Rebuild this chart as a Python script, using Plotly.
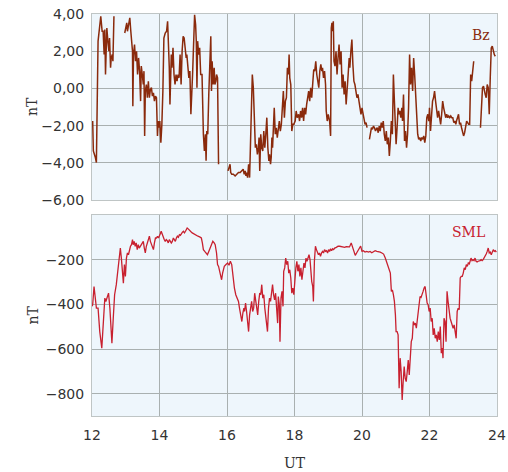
import plotly.graph_objects as go

# ---------------- data ----------------
bz_time = [12.02, 12.04, 12.10, 12.13, 12.18, 12.23, 12.26, 12.30, 12.33, 12.36, 12.38, 12.40, 12.44, 12.47, 12.50,
           12.52, 12.55, 12.57, 12.60, 12.62, 12.65, 12.80,
           12.97, 13.00, 13.03, 13.05, 13.09, 13.12, 13.15, 13.17, 13.20, 13.21, 13.23, 13.26, 13.29, 13.32, 13.35,
           13.38, 13.41, 13.44, 13.46, 13.49, 13.52, 13.54, 13.56, 13.58, 13.61, 13.64, 13.67, 13.70, 13.73, 13.76,
           13.79, 13.82, 13.85, 13.88, 13.91, 13.94, 13.96, 13.99, 14.01, 14.04, 14.07, 14.10, 14.13, 14.17, 14.21,
           14.24, 14.27, 14.29, 14.31, 14.33, 14.35, 14.37, 14.40, 14.43, 14.46, 14.49, 14.52, 14.55, 14.58, 14.61,
           14.64, 14.67, 14.70, 14.73, 14.76, 14.79, 14.81, 14.84, 14.87, 14.90, 14.93,
           14.98, 15.01, 15.04, 15.07, 15.09, 15.11, 15.13, 15.16, 15.19, 15.22, 15.26, 15.30, 15.33, 15.36, 15.38,
           15.40, 15.43, 15.46, 15.49, 15.52, 15.54, 15.56, 15.59, 15.62, 15.64, 15.67, 15.69, 15.72, 15.75, 15.90,
           16.03, 16.06, 16.09, 16.11, 16.14, 16.19, 16.24, 16.29, 16.34, 16.39, 16.43, 16.48, 16.51, 16.54, 16.56,
           16.58, 16.61, 16.64, 16.67, 16.69, 16.72, 16.75, 16.78, 16.81, 16.84, 16.87, 16.90, 16.93, 16.95, 16.97,
           17.00, 17.03, 17.06, 17.09, 17.12, 17.15, 17.18, 17.21, 17.24, 17.26, 17.29, 17.31, 17.33, 17.35, 17.38,
           17.40, 17.43, 17.46, 17.49, 17.52, 17.55, 17.58, 17.61, 17.64, 17.67, 17.70, 17.73, 17.76, 17.79, 17.82,
           17.84, 17.86, 17.89, 17.92, 17.95,
           17.98, 18.02, 18.05, 18.08, 18.12, 18.15, 18.18, 18.21, 18.24, 18.27, 18.30, 18.33, 18.36, 18.39, 18.42,
           18.45, 18.48, 18.51, 18.54, 18.57, 18.60, 18.63, 18.66, 18.69, 18.72, 18.75, 18.78, 18.81, 18.83, 18.86,
           18.89, 18.92, 18.94, 18.97, 19.00, 19.04, 19.07, 19.09, 19.11, 19.13, 19.15, 19.17, 19.20, 19.23, 19.26,
           19.29, 19.32, 19.35, 19.38, 19.41, 19.44, 19.47, 19.50, 19.53, 19.56, 19.59, 19.62, 19.64, 19.67, 19.70,
           19.73, 19.76, 19.79, 19.82, 19.85, 19.88, 19.91, 19.94, 19.97, 20.00, 20.03, 20.06, 20.09, 20.12, 20.15,
           20.18,
           20.22, 20.25, 20.28, 20.31, 20.34, 20.37, 20.40, 20.42, 20.45, 20.48, 20.51, 20.54, 20.57, 20.60, 20.63,
           20.66, 20.69, 20.72, 20.75, 20.78, 20.81, 20.84, 20.87, 20.90, 20.93, 20.96, 20.99,
           21.01, 21.04, 21.07, 21.09, 21.12, 21.15, 21.18, 21.20, 21.23, 21.26, 21.29, 21.32, 21.35, 21.38, 21.41,
           21.44, 21.47, 21.50, 21.53, 21.56, 21.59, 21.62, 21.65, 21.68, 21.71, 21.74, 21.77, 21.80, 21.83, 21.86,
           21.89, 21.92, 21.95, 21.98, 22.00, 22.03, 22.06, 22.09, 22.12, 22.15, 22.18, 22.21, 22.24, 22.27, 22.30,
           22.33, 22.36, 22.39, 22.42, 22.45, 22.48, 22.51, 22.54, 22.57, 22.60, 22.63, 22.66, 22.69, 22.72, 22.75,
           22.78, 22.80, 22.83, 22.86, 22.89, 22.92, 22.95, 22.98, 23.01, 23.04, 23.07, 23.10, 23.13, 23.16, 23.19,
           23.22, 23.25, 23.28, 23.31, 23.40,
           23.51, 23.54, 23.57, 23.60, 23.62, 23.65, 23.68, 23.71, 23.74, 23.77, 23.80, 23.83, 23.86, 23.89, 23.92,
           23.95]

bz_value = [-1.75, -3.36, -3.71, -3.98, 2.54, 3.25, 3.88, 3.07, 3.07, 1.82, 3.16, 0.75, 3.25, 2.54, 2.00,
            2.71, 1.11, 1.64, 1.82, 1.46, 3.88, None,
            2.98, 3.25, 3.52, 3.07, 3.61, 3.79, 3.07, 2.54, 2.00, -0.95, 1.82, 2.36, 1.46, 2.00, 0.75,
            1.64, 0.93, -0.68, 1.20, 0.75, 0.21, 0.93, -2.55, -0.14, 0.21, -0.50, 0.39, -0.50, -0.05, 0.04,
            -0.41, -0.23, -0.68, -0.41, -0.50, -2.55, -1.75, -2.11, -1.75, -2.91, -1.93, -0.14, 2.71, 2.98, 3.07,
            3.61, 2.54, 1.11, -0.86, 1.46, 1.82, 1.11, 2.18, 0.75, 0.21, 0.75, 0.39, 0.75, 0.57, 1.82,
            0.21, 2.00, 2.80, 2.71, 2.18, 1.64, 1.82, 1.11, 0.57, 0.93, -1.39,
            0.75, 3.25, 3.96, 3.43, 2.54, 0.04, 2.54, 1.82, 2.18, 0.75, 0.75, -2.46, -3.36, -2.46, -3.89,
            -2.29, -2.46, -0.32, 1.64, 2.80, -0.14, 1.46, 0.21, 1.11, 0.21, 0.39, 0.75, 0.57, -4.07, None,
            -4.43, -4.25, -4.07, -4.52, -4.61, -4.61, -4.70, -4.61, -4.52, -4.52, -4.43, -4.34, -4.61, -4.43, -4.70,
            -4.52, -4.79, -4.07, -4.79, -3.54, -1.04, 0.75, 0.04, -2.46, -3.18, -3.00, -3.54, -3.18, -2.64, -4.43,
            -2.46, -3.18, -3.36, -2.29, -3.18, -2.46, -1.57, -3.18, -3.89, -3.54, -4.07, -3.71, -2.64, -3.18, -1.93,
            -1.04, -2.46, -2.11, -2.64, -2.29, -1.75, -2.29, -1.93, -1.04, -0.14, -1.57, -0.68, -0.50, 1.11, 0.75,
            1.82, 0.57, 0.21, -2.29, -1.93,
            -1.93, -1.75, -1.21, -1.57, -1.39, -1.75, -1.21, -1.57, -1.04, -1.75, -1.04, -1.39, -0.86, -0.50, -0.14,
            -0.68, 0.04, -0.50, 0.21, 1.02, 0.93, 1.46, 0.75, 0.21, 0.04, 0.93, 1.29, 0.93, 1.11, 0.57,
            0.93, 0.21, -1.21, -1.75, -1.39, -1.75, -2.55, 3.25, 3.52, 3.07, 3.61, 1.46, 1.20, 2.00, 0.75,
            1.64, 2.36, 1.29, 2.00, 0.04, 0.75, -0.32, 0.39, -0.86, 0.39, 0.75, 1.64, 1.11, 2.00, 2.63,
            1.29, 0.39, 0.21, -0.32, -0.50, -0.32, -0.68, -1.21, -1.39, -1.04, -1.39, -1.57, -1.93, -1.84, -2.11,
            None,
            -2.73, -2.46, -2.11, -2.20, -2.02, -2.11, -2.29, -2.20, -2.11, -2.38, -2.02, -2.29, -1.84, -2.11, -1.75,
            -2.46, -2.82, -2.29, -3.00, -2.64, -3.63, -2.82, -1.75, -2.46, 0.75, -0.68, -2.82,
            -3.00, -2.11, -1.04, -1.39, -1.21, -1.57, -1.04, -1.75, -0.32, -2.82, -2.29, -3.18, -2.46, -1.04, 1.82,
            0.21, 1.11, -0.14, 1.64, 0.75, -0.32, -1.39, -2.46, -2.73, -2.64, -2.82, -2.64, -2.73, -2.55, -2.91,
            -2.55, -1.57, -1.39, -1.75, -1.04, -2.29, -1.39, -0.68, -0.50, -0.14, -0.68, -1.04, -1.57, -1.21, -1.75,
            -1.93, -1.39, -0.68, -1.04, -1.39, -1.57, -1.39, -1.57, -1.48, -1.57, -1.48, -1.57, -1.57, -1.84, -1.75,
            -1.93, -1.75, -1.57, -1.39, -1.93, -1.84, -2.11, -2.29, -2.55, -2.38, -2.11, -1.75, -1.84, -1.93, -1.93,
            0.75, 0.39, 1.11, 1.46, None,
            -2.11, -0.86, 0.04, 0.13, -0.14, -0.32, -0.50, 0.21, 0.04, -1.39, 0.57, 2.18, 2.27, 2.00, 1.82,
            1.73]

sml_time = [12.00, 12.02, 12.06, 12.10, 12.13, 12.18, 12.23, 12.29, 12.33, 12.38, 12.41, 12.45, 12.49, 12.53, 12.56,
            12.59, 12.63, 12.67, 12.72, 12.77, 12.81, 12.84, 12.87, 12.90, 12.93, 12.96, 12.99, 13.02, 13.05, 13.08,
            13.11, 13.14, 13.17, 13.20, 13.22, 13.25, 13.28, 13.31, 13.34, 13.37, 13.40, 13.43, 13.46, 13.49, 13.52,
            13.55, 13.58, 13.61, 13.64, 13.67, 13.70, 13.73, 13.76, 13.79, 13.82, 13.85, 13.88, 13.91, 13.94, 13.97,
            14.00, 14.02, 14.05, 14.08, 14.11, 14.14, 14.17, 14.20, 14.23, 14.26, 14.29, 14.32, 14.35, 14.38, 14.41,
            14.44, 14.47, 14.50, 14.53, 14.56, 14.59, 14.62, 14.65, 14.68, 14.71, 14.74, 14.77, 14.80, 14.82, 14.85,
            14.88, 14.91, 14.94, 14.97, 15.00, 15.04, 15.09, 15.14, 15.19, 15.24, 15.27, 15.30, 15.34, 15.38, 15.42,
            15.46, 15.50, 15.54, 15.58, 15.62, 15.65, 15.69, 15.72, 15.75, 15.78, 15.81, 15.84, 15.87, 15.90,
            15.92, 15.97, 16.02, 16.06, 16.10, 16.14, 16.18, 16.22, 16.26, 16.30, 16.34, 16.37, 16.40, 16.44, 16.47,
            16.50, 16.52, 16.55, 16.58, 16.61, 16.64, 16.67, 16.70, 16.73, 16.76, 16.79, 16.82, 16.85, 16.88, 16.91,
            16.94, 16.97, 17.00, 17.03, 17.06, 17.09, 17.12, 17.15, 17.18, 17.20, 17.23, 17.26, 17.29, 17.32, 17.35,
            17.38, 17.41, 17.44, 17.47, 17.50, 17.52, 17.55, 17.57, 17.60, 17.63, 17.66, 17.68, 17.71, 17.74, 17.77,
            17.80, 17.83, 17.86, 17.89, 17.92, 17.95, 17.98, 18.01, 18.04, 18.07, 18.10, 18.13, 18.16, 18.19, 18.22,
            18.25, 18.28, 18.31, 18.34, 18.37, 18.40, 18.43, 18.46, 18.49, 18.51, 18.54, 18.56, 18.59, 18.62, 18.65,
            18.68, 18.71, 18.74, 18.77, 18.80, 18.83, 18.86, 18.89, 18.92, 18.95, 18.98, 19.01, 19.04, 19.07, 19.10,
            19.13, 19.16, 19.19, 19.24, 19.29, 19.34, 19.39, 19.44, 19.49, 19.53, 19.58, 19.63, 19.68, 19.72, 19.76,
            19.80, 19.84, 19.88, 19.92, 19.96,
            20.00, 20.04, 20.09, 20.14, 20.19, 20.24, 20.29, 20.34, 20.39, 20.44, 20.49, 20.54, 20.59, 20.64, 20.69,
            20.74, 20.79, 20.81, 20.84, 20.87, 20.90, 20.93, 20.96, 20.99, 21.01, 21.04, 21.07, 21.10, 21.13, 21.16,
            21.19, 21.22, 21.25, 21.28, 21.31, 21.34, 21.37, 21.40, 21.43, 21.46, 21.49, 21.52, 21.55, 21.58, 21.61,
            21.64, 21.66, 21.69, 21.72, 21.75, 21.78, 21.81, 21.84, 21.87, 21.90, 21.93, 21.96, 21.99, 22.02, 22.05,
            22.08, 22.11, 22.14, 22.17, 22.20, 22.23, 22.26, 22.29, 22.32, 22.35, 22.38, 22.40, 22.43, 22.46, 22.49,
            22.52, 22.55, 22.58, 22.61, 22.64, 22.67, 22.70, 22.73, 22.76, 22.79, 22.82, 22.85, 22.88, 22.91, 22.94,
            22.97, 23.00, 23.03, 23.06, 23.09, 23.12, 23.15, 23.18, 23.20, 23.23, 23.26, 23.29, 23.32, 23.35, 23.38,
            23.41, 23.44, 23.47, 23.50, 23.53, 23.56, 23.59, 23.62, 23.65, 23.68, 23.71, 23.74, 23.77, 23.80, 23.83,
            23.86, 23.89, 23.92, 23.95, 23.98]

sml_value = [-409, -402, -320, -372, -417, -417, -522, -596, -492, -372, -387, -372, -350, -417, -477,
             -574, -462, -357, -312, -252, -207, -148, -193, -237, -305, -222, -275, -193, -170, -178,
             -148, -140, -133, -110, -133, -118, -140, -125, -155, -133, -148, -140, -133, -125, -118,
             -148, -170, -140, -125, -110, -95, -118, -133, -148, -155, -125, -103, -103, -95, -103,
             -95, -85, -73, -88, -103, -110, -118, -110, -115, -125, -110, -118, -125, -118, -103,
             -110, -118, -103, -95, -100, -88, -91, -80, -77, -73, -80, -73, -65, -58, -62,
             -68, -73, -76, -80, -83, -88, -92, -95, -98, -103, -125, -155, -163, -170, -178,
             -163, -148, -133, -118, -125, -133, -170, -222, -230, -252, -275, -290, -260, -237,
             -230, -222, -215, -225, -207, -222, -282, -327, -357, -375, -387, -417, -447, -477, -439,
             -417, -432, -394, -432, -477, -522, -447, -409, -387, -432, -417, -350, -387, -417, -447,
             -387, -350, -357, -312, -372, -357, -417, -462, -477, -522, -417, -372, -387, -357, -312,
             -357, -380, -350, -402, -484, -365, -402, -567, -372, -342, -409, -252, -237, -193, -222,
             -207, -260, -245, -282, -350, -327, -357, -275, -237, -207, -252, -222, -275, -237, -290,
             -252, -215, -237, -193, -207, -185, -178, -200, -290, -297, -320, -387, -207, -140, -155,
             -170, -178, -170, -185, -170, -163, -170, -155, -163, -160, -170, -155, -163, -151, -160,
             -151, -155, -148, -145, -140, -140, -142, -145, -145, -142, -143, -143, -125, -148, -163,
             -181, -170, -160, -151, -139,
             -163, -160, -166, -163, -166, -163, -169, -163, -160, -163, -163, -166, -170, -175, -193,
             -215, -237, -245, -260, -342, -335, -357, -387, -447, -522, -522, -537, -776, -641, -701,
             -828, -746, -679, -731, -746, -701, -649, -716, -656, -567, -552, -477, -492, -484, -507,
             -462, -432, -380, -365, -369, -350, -342, -327, -320, -357, -394, -402, -432, -417, -477,
             -462, -537, -507, -552, -537, -567, -522, -559, -499, -619, -596, -641, -462, -477, -567,
             -342, -387, -432, -462, -477, -499, -507, -492, -522, -552, -432, -417, -424, -282, -275,
             -275, -260, -237, -245, -222, -230, -215, -219, -207, -193, -204, -200, -204, -193, -207,
             -210, -207, -207, -204, -200, -204, -200, -193, -185, -175, -163, -148, -170, -166, -178,
             -163, -155, -163, -160, -166]

x_ticks = [12, 14, 16, 18, 20, 22, 24]
bz_ticks = [-6, -4, -2, 0, 2, 4]
bz_ticktext = ["\u22126,00", "\u22124,00", "\u22122,00", "0,00", "2,00", "4,00"]
sml_ticks = [-800, -600, -400, -200]
sml_ticktext = ["\u2212800", "\u2212600", "\u2212400", "\u2212200"]

# ---------------- styling ----------------
BZ_COLOR = "#8A2A0C"
SML_COLOR = "#C8202F"
BG = "#EEF6FC"
GRID = "#A9B0B0"
BORDER = "#BFC5C5"
TICK_FONT = dict(family="DejaVu Sans", size=14, color="#333333")
TITLE_FONT = dict(family="DejaVu Serif", size=14, color="#333333")

fig = go.Figure()
fig.add_trace(go.Scatter(x=bz_time, y=bz_value, mode="lines", xaxis="x2", yaxis="y2",
                         line=dict(color=BZ_COLOR, width=1.5), connectgaps=False, showlegend=False))
fig.add_trace(go.Scatter(x=sml_time, y=sml_value, mode="lines", xaxis="x", yaxis="y",
                         line=dict(color=SML_COLOR, width=1.3), showlegend=False))

axis_common = dict(showgrid=True, gridcolor=GRID, gridwidth=1, showline=True, linecolor=BORDER,
                   linewidth=1, mirror=True, zeroline=False, ticks="", tickfont=TICK_FONT,
                   ticklabeloverflow="allow", automargin=False)

fig.update_layout(
    width=508, height=472,
    margin=dict(l=92, r=11, t=14, b=56),
    paper_bgcolor="white", plot_bgcolor=BG,
    hovermode=False,
    xaxis=dict(domain=[0, 1], range=[12, 24], tickvals=x_ticks, anchor="y", ticklabelstandoff=6,
               **axis_common),
    yaxis=dict(domain=[0, 0.5], range=[-900, 0], tickvals=sml_ticks, ticktext=sml_ticktext,
               anchor="x", ticklabelstandoff=4, **axis_common),
    xaxis2=dict(domain=[0, 1], range=[12, 24], tickvals=x_ticks, anchor="y2", showticklabels=False,
                **axis_common),
    yaxis2=dict(domain=[0.537, 1], range=[-6, 4], tickvals=bz_ticks, ticktext=bz_ticktext,
                anchor="x2", ticklabelstandoff=4, **axis_common),
    annotations=[
        dict(text="nT", xref="paper", yref="y2 domain", x=0, y=0.5, xshift=-70, textangle=-90,
             showarrow=False, font=TITLE_FONT),
        dict(text="nT", xref="paper", yref="y domain", x=0, y=0.5, xshift=-70, textangle=-90,
             showarrow=False, font=TITLE_FONT),
        dict(text="UT", xref="paper", yref="paper", x=0.5, y=0, yshift=-47, yanchor="middle",
             showarrow=False, font=TITLE_FONT),
        dict(text="Bz", xref="paper", yref="y2 domain", x=0.988, y=0.887, xanchor="right",
             yanchor="middle", showarrow=False,
             font=dict(family="DejaVu Serif", size=14, color=BZ_COLOR)),
        dict(text="SML", xref="paper", yref="y domain", x=0.975, y=0.915, xanchor="right",
             yanchor="middle", showarrow=False,
             font=dict(family="DejaVu Serif", size=14, color=SML_COLOR)),
    ],
)

# remove the page's default body margin so the 508x472 figure fills the window exactly
fig.write_html("out.html",
               config={"displayModeBar": False, "staticPlot": True},
               post_script="document.body.style.margin='0';document.body.style.overflow='hidden';")
